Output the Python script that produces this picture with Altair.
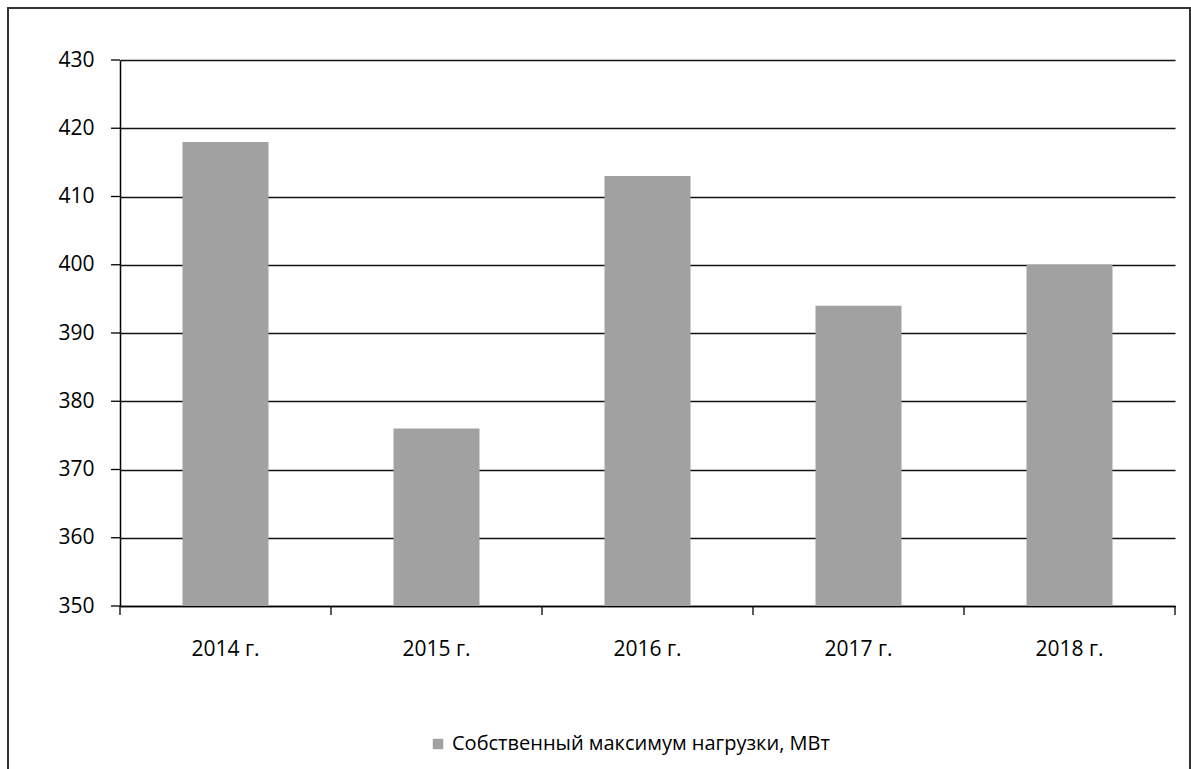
import altair as alt
import pandas as pd

years = ["2014 г.", "2015 г.", "2016 г.", "2017 г.", "2018 г."]
values = [418, 376, 413, 394, 400]
series = "Собственный максимум нагрузки, МВт"
baseline = 350
y_ticks = [350, 360, 370, 380, 390, 400, 410, 420, 430]

df = pd.DataFrame({"year": years, "value": values, "base": [baseline] * len(years),
                   "series": [series] * len(years)})
ticks_df = pd.DataFrame({"t": y_ticks})

font = "Open Sans"
xscale = alt.Scale(domain=years, paddingInner=0.6, paddingOuter=0.3)
yscale = alt.Scale(domain=[350, 430], nice=False, zero=False)

bars = alt.Chart(df).mark_bar(size=86, clip=True).encode(
    x=alt.X("year:N", sort=years, title=None, scale=xscale,
            axis=alt.Axis(labelAngle=0, labelFontSize=21, labelFont=font, labelColor="#000",
                          labelPadding=32, grid=False, ticks=False,
                          domainColor="#000000", domainWidth=1.5)),
    y=alt.Y("value:Q", title=None, scale=yscale,
            axis=alt.Axis(values=y_ticks,
                          labelFontSize=21, labelFont=font, labelColor="#000",
                          labelPadding=26, ticks=False,
                          domainColor="#000000", domainWidth=1.5,
                          grid=True, gridColor="#111", gridWidth=1.3)),
    y2="base:Q",
    color=alt.Color("series:N", scale=alt.Scale(range=["#a1a1a1"]),
                    legend=alt.Legend(title=None, orient="none", legendX=308, legendY=674,
                                      labelFontSize=20, labelFont=font, labelColor="#000",
                                      labelLimit=600,
                                      symbolType="square", symbolSize=110, symbolStrokeWidth=0)),
)

# y-axis tick marks
ytick_marks = alt.Chart(ticks_df).mark_rule(color="#000", strokeWidth=1.3, clip=False).encode(
    y=alt.Y("t:Q", scale=yscale), x=alt.value(-9), x2=alt.value(0)
)

# x-axis tick marks at category boundaries
xtick_left = alt.Chart(df).mark_rule(color="#000", strokeWidth=1.3, clip=False, xOffset=-63.3).encode(
    x=alt.X("year:N", scale=xscale, bandPosition=0), y=alt.value(546), y2=alt.value(555)
)
xtick_right = alt.Chart(df.tail(1)).mark_rule(color="#000", strokeWidth=1.3, clip=False, xOffset=63.3).encode(
    x=alt.X("year:N", scale=xscale, bandPosition=1), y=alt.value(546), y2=alt.value(555)
)

frame = alt.Chart(df).mark_rect(fill=None, stroke="#333", strokeWidth=1.5, clip=False).encode(
    x=alt.value(-112), x2=alt.value(1070), y=alt.value(-52), y2=alt.value(760)
)

chart = alt.layer(bars, ytick_marks, xtick_left, xtick_right, frame).properties(
    width=1055, height=546,
    background="white",
    autosize=alt.AutoSizeParams(type="none"),
    padding={"left": 120, "top": 60, "right": 16, "bottom": 163},
).configure_view(stroke=None)

chart.save("out.html", embed_options={"renderer": "svg", "actions": False})
